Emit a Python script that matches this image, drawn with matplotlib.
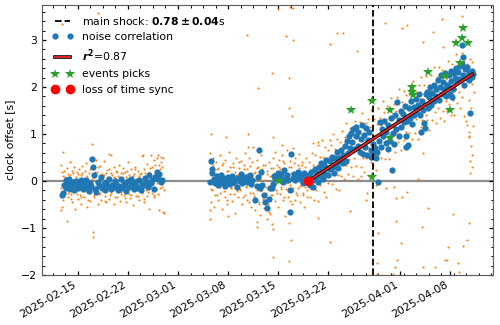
import numpy as np
import matplotlib
matplotlib.use('Agg')
import matplotlib.pyplot as plt
import matplotlib.dates as mdates
import matplotlib.patheffects as pe
from matplotlib.ticker import AutoMinorLocator

# Times are given as days after 2025-02-10 00:00 UTC
T0 = np.datetime64('2025-02-10T00:00')

# noise correlation (blue), February block
blue_feb_day = [
    2.8, 2.9, 3.1, 3.3, 3.4, 3.6, 3.8, 3.9, 4.1, 4.3, 4.5, 4.6, 4.8, 5.0, 5.2,
    5.4, 5.5, 5.7, 5.9, 6.1, 6.3, 6.5, 6.7, 6.9, 7.0, 7.1, 7.2, 7.4, 7.6, 7.8,
    8.0, 8.2, 8.4, 8.6, 8.8, 9.0, 9.2, 9.4, 9.6, 9.8, 10.0, 10.2, 10.4, 10.6,
    10.8, 11.0, 11.2, 11.4, 11.6, 11.8, 12.0, 12.2, 12.4, 12.6, 12.8, 13.0,
    13.2, 13.4, 13.6, 13.8, 14.0, 14.2, 14.4, 14.6, 14.8, 15.0, 15.2, 15.4,
    15.6, 15.8, 16.0, 16.2, 16.4, 16.6, 16.8,
]
blue_feb_val = [
    -0.30, -0.26, -0.08, 0.02, -0.14, -0.04, 0.05, -0.18, -0.10, -0.02, -0.20,
    -0.07, 0.01, -0.15, -0.09, -0.12, 0.02, -0.17, -0.06, 0.03, -0.13, -0.21,
    -0.05, -0.11, 0.46, 0.30, 0.13, -0.16, -0.24, -0.03, -0.10, 0.09, -0.14,
    -0.07, -0.20, -0.02, -0.11, 0.04, -0.17, -0.08, -0.13, 0.00, -0.06, -0.19,
    -0.10, 0.04, -0.15, -0.04, -0.09, -0.22, -0.01, -0.12, 0.05, -0.07, -0.18,
    -0.03, -0.11, -0.14, 0.02, -0.20, -0.06, -0.09, 0.06, -0.02, -0.13, 0.12,
    -0.05, 0.03, -0.16, 0.08, 0.20, 0.05, 0.15, -0.02, 0.02,
]
# March block before the loss of time sync
blue_mar_day = [
    23.5, 23.6, 23.7, 23.8, 24.0, 24.2, 24.4, 24.6, 24.8, 25.0, 25.2, 25.4,
    25.6, 25.8, 26.0, 26.2, 26.4, 26.6, 26.8, 27.0, 27.2, 27.4, 27.6, 27.8,
    28.0, 28.2, 28.4, 28.6, 28.8, 29.0, 29.2, 29.4, 29.75, 30.0, 30.2, 30.3,
    30.4, 30.6, 30.8, 31.0, 31.2, 31.5, 31.7, 31.9, 32.1, 32.2, 32.4, 32.6,
    32.8, 33.0, 33.2, 33.4, 33.6, 33.8, 34.0, 34.2, 34.4, 34.6, 34.7, 34.8,
    35.0, 35.2, 35.4, 35.6, 35.8, 36.0, 36.2, 36.4, 36.6, 36.8, 37.0,
]
blue_mar_val = [
    -0.03, 0.43, 0.25, 0.17, 0.05, -0.05, 0.10, -0.08, 0.02, 0.12, -0.04, 0.06,
    -0.10, 0.00, 0.08, -0.06, 0.03, 0.11, -0.02, 0.05, -0.12, 0.07, 0.01, 0.15,
    -0.05, 0.04, 0.09, -0.03, 0.06, 0.13, -0.07, 0.02, -0.40, -0.10, 0.08, 0.66,
    -0.14, 0.20, -0.08, -0.30, -0.45, -0.57, -0.38, -0.14, -0.14, -0.06, 0.10,
    0.06, 0.04, 0.18, 0.10, 0.14, -0.02, 0.23, 0.05, 0.12, 0.03, -0.65, -0.20,
    0.57, 0.07, 0.15, 0.02, 0.10, 0.20, 0.05, 0.12, -0.04, 0.16, 0.08, 0.02,
]
# drifting clock after the loss of time sync
blue_rise_day = [
    37.3, 37.5, 37.6, 37.8, 37.9, 38.1, 38.2, 38.4, 38.5, 38.7,
    38.8, 39.0, 39.1, 39.3, 39.4, 39.6, 39.7, 39.9, 40.0, 40.2,
    40.3, 40.5, 40.6, 40.8, 40.9, 41.1, 41.2, 41.4, 41.5, 41.7,
    41.8, 42.0, 42.1, 42.3, 42.4, 42.6, 42.7, 42.9, 43.0, 43.2,
    43.3, 43.5, 43.6, 43.8, 43.9, 44.1, 44.2, 44.4, 44.5, 44.7,
    44.8, 45.0, 45.1, 45.3, 45.4, 45.6, 45.7, 45.9, 46.0, 46.2,
    46.3, 46.5, 46.6, 46.8, 46.9, 47.1, 47.2, 47.4, 47.5, 47.7,
    47.8, 48.0, 48.1, 48.3, 48.4, 48.6, 48.7, 48.9, 49.0, 49.2,
    49.3, 49.5, 49.6, 49.8, 49.9, 50.1, 50.2, 50.4, 50.5, 50.7,
    50.8, 50.9, 51.0, 51.1, 51.3, 51.4, 51.6, 51.7, 51.9, 52.0,
    52.2, 52.3, 52.5, 52.6, 52.8, 52.9, 53.1, 53.2, 53.3, 53.5,
    53.6, 53.8, 53.9, 54.1, 54.2, 54.4, 54.5, 54.7, 54.8, 55.0,
    55.1, 55.3, 55.4, 55.6, 55.7, 55.9, 56.0, 56.2, 56.3, 56.5,
    56.6, 56.8, 56.9, 57.1, 57.2, 57.4, 57.5, 57.7, 57.8, 58.0,
    58.1, 58.3, 58.4, 58.6, 58.7, 58.75, 58.8, 59.0, 59.1, 59.3,
    59.4, 59.6, 59.7, 59.8, 60.0, 60.1, 60.2, 57.0, 57.3,
]
blue_rise_val = [
    0.12, -0.08, 0.20, 0.02, -0.12, 0.25, 0.05, 0.18, -0.02, 0.30,
    0.10, 0.38, 0.22, 0.05, 0.35, 0.15, 0.45, 0.28, 0.12, 0.42,
    0.25, 0.52, 0.30, 0.18, 0.48, 0.35, 0.62, 0.28, 0.50, 0.40,
    0.65, 0.38, 0.55, 0.75, 0.42, 0.85, 0.60, 0.95, 0.70, 1.02,
    0.82, 1.10, 0.68, 0.95, 1.15, 0.75, 1.05, 0.62, 0.90, 1.20,
    0.58, 0.98, 0.72, 1.12, 0.55, 0.88, 1.05, 0.65, 0.52, 0.78,
    0.60, 0.70, 0.50, 0.62, -0.02, 0.85, 1.25, 0.72, 1.10, 0.95,
    1.28, 0.80, 1.05, 0.68, 1.20, 0.85, 1.35, 0.23, 1.02, 0.78,
    1.40, 1.10, 1.68, 0.95, 1.30, 1.50, 1.15, 1.42, 1.25, 1.60,
    0.95, 0.73, 1.28, 0.77, 1.55, 1.35, 1.70, 1.22, 1.58, 1.40,
    1.75, 1.48, 1.62, 1.85, 1.40, 1.05, 1.70, 1.52, 1.23, 1.13,
    1.85, 1.90, 1.55, 1.78, 2.00, 1.62, 1.88, 1.70, 2.05, 1.80,
    1.95, 2.15, 1.72, 2.00, 2.25, 1.85, 2.10, 1.95, 2.30, 1.80,
    2.05, 2.25, 2.00, 2.35, 2.12, 1.95, 2.30, 2.20, 2.40, 2.10,
    2.32, 2.18, 2.45, 2.50, 2.90, 2.64, 2.25, 2.05, 2.38, 2.20,
    2.42, 2.15, 2.30, 1.45, 2.22, 2.35, 2.28, 1.85, 1.79,
]

# single measurements (orange)
orange_feb_day = [
    2.6, 2.7, 2.8, 2.9, 3.0, 3.1, 3.2, 3.3, 3.4, 3.5, 3.6, 3.7, 3.8, 3.9, 4.0,
    4.1, 4.2, 4.3, 4.4, 4.5, 4.6, 4.7, 4.8, 4.9, 5.0, 5.1, 5.2, 5.3, 5.4, 5.5,
    5.6, 5.7, 5.8, 5.9, 6.0, 6.1, 6.2, 6.3, 6.4, 6.5, 6.6, 6.7, 6.8, 6.9, 7.0,
    7.1, 7.15, 7.2, 7.3, 7.5, 7.6, 7.7, 7.8, 7.9, 8.0, 8.1, 8.2, 8.3, 8.4, 8.5,
    8.6, 8.7, 8.8, 8.9, 9.0, 9.1, 9.2, 9.3, 9.4, 9.5, 9.6, 9.7, 9.8, 9.9, 10.0,
    10.1, 10.2, 10.3, 10.4, 10.5, 10.6, 10.7, 10.8, 10.9, 11.0, 11.1, 11.2,
    11.3, 11.4, 11.5, 11.6, 11.7, 11.8, 11.9, 12.0, 12.1, 12.2, 12.3, 12.4,
    12.5, 12.6, 12.7, 12.8, 12.9, 13.0, 13.1, 13.2, 13.3, 13.4, 13.5, 13.6,
    13.7, 13.8, 13.9, 14.0, 14.1, 14.2, 14.3, 14.4, 14.5, 14.6, 14.7, 14.8,
    14.9, 15.0, 15.1, 15.2, 15.3, 15.4, 15.5, 15.6, 15.7, 15.8, 15.9, 16.0,
    16.1, 16.2, 16.3, 16.4, 16.5, 16.6, 16.7, 16.8, 16.9, 17.0, 17.1,
    2.65, 2.85, 3.05, 3.25, 3.45, 3.65, 3.85, 4.05, 4.25, 4.45,
    4.65, 4.85, 5.05, 5.25, 5.45, 5.65, 5.85, 6.05, 6.25, 6.45,
    6.65, 6.85, 7.05, 7.25, 7.45, 7.65, 7.85, 8.05, 8.25, 8.45,
    8.65, 8.85, 9.05, 9.25, 9.45, 9.65, 9.85, 10.05, 10.25, 10.45,
    10.65, 10.85, 11.05, 11.25, 11.45, 11.65, 11.85, 12.05, 12.25, 12.45,
    12.65, 12.85, 13.05, 13.25, 13.45, 13.65, 13.85, 14.05, 14.25, 14.45,
    14.65, 14.85, 15.05, 15.25, 15.45, 15.65, 15.85, 16.05, 16.25, 16.45,
    16.65, 16.85,
]
orange_feb_val = [
    -0.62, 0.35, -0.55, 0.10, -0.40, 0.22, -0.25, 0.05, -0.18, 0.28, -0.35,
    0.15, -0.10, 0.40, -0.28, 0.02, -0.45, 0.18, -0.15, 0.30, -0.60, 0.08,
    -0.22, 0.20, -0.38, -0.05, 0.25, -0.30, 0.12, -0.48, 0.33, -0.12, 0.06,
    -0.33, 0.22, -0.20, 0.38, -0.55, 0.00, -0.25, 0.16, -0.42, 0.28, -0.08,
    0.79, -1.09, -1.20, 0.10, -0.35, 0.45, -0.18, 0.20, -0.50, 0.05, -0.28,
    0.32, -0.10, -0.40, 0.14, -0.22, 0.42, -0.05, -0.32, 0.18, -0.45, 0.08,
    -0.16, 0.26, -0.38, 0.00, 0.55, -0.26, 0.12, -0.12, 0.30, -0.50, 0.06,
    -0.20, 0.22, -0.35, 0.10, -0.08, 0.35, -0.42, 0.16, -0.24, 0.02, 0.28,
    -0.30, -0.06, 0.20, -0.45, 0.08, -0.15, 0.40, -0.28, 0.12, -0.36, 0.04,
    0.25, -0.20, -0.52, 0.15, -0.10, 0.30, -0.32, 0.05, -0.18, 0.22, -0.40,
    0.10, -0.05, 0.18, -0.26, 0.54, -0.14, 0.26, -0.44, 0.08, -0.20, 0.36,
    -0.32, 0.12, -0.60, 0.20, -0.10, 0.55, -0.25, 0.30, -0.05, 0.45, -0.35,
    0.15, -0.18, 0.50, 0.02, -0.28, 0.35, -0.62, 0.25, 0.52, -0.12, 0.30,
    0.48, -0.20, -0.68,
    -0.15, 0.20, -0.32, 0.08, -0.05, -0.25, 0.12, -0.38, 0.22, -0.12,
    0.05, -0.28, 0.15, -0.08, -0.35, 0.18, -0.02, -0.22, 0.10, -0.40,
    0.25, -0.15, 0.05, -0.30, 0.20, -0.10, 0.30, -0.26, 0.02, -0.18,
    0.12, -0.42, 0.24, -0.06, -0.30, 0.16, -0.20, 0.08, -0.34, 0.20,
    -0.12, 0.04, -0.28, 0.18, -0.04, -0.36, 0.22, -0.14, 0.00, -0.30,
    0.10, -0.22, 0.26, -0.08, -0.32, 0.14, -0.16, 0.04, -0.38, 0.18,
    -0.06, -0.24, 0.28, -0.12, 0.10, -0.30, 0.35, -0.05, 0.20, -0.15,
    0.40, 0.05,
]
orange_mar_day = [
    23.4, 23.5, 23.6, 23.7, 23.8, 23.9, 24.0, 24.1, 24.2, 24.3, 24.4, 24.5,
    24.6, 24.7, 24.8, 24.9, 25.0, 25.1, 25.2, 25.3, 25.4, 25.5, 25.6, 25.7,
    25.8, 25.9, 26.0, 26.1, 26.2, 26.3, 26.4, 26.5, 26.6, 26.7, 26.8, 26.9,
    27.0, 27.1, 27.2, 27.3, 27.4, 27.5, 27.6, 27.7, 27.8, 27.9, 28.0, 28.1,
    28.2, 28.3, 28.4, 28.5, 28.6, 28.7, 28.8, 28.9, 29.0, 29.1, 29.2, 29.3,
    29.4, 29.5, 29.6, 29.7, 29.8, 29.9, 30.0, 30.1, 30.2, 30.3, 30.4, 30.5,
    30.6, 30.7, 30.8, 30.9, 31.0, 31.1, 31.2, 31.3, 31.4, 31.5, 31.6, 31.7,
    31.8, 31.9, 32.0, 32.1, 32.2, 32.3, 32.4, 32.5, 32.6, 32.7, 32.8, 32.9,
    33.0, 33.1, 33.2, 33.3, 33.4, 33.5, 33.6, 33.7, 33.8, 33.9, 34.0, 34.1,
    34.2, 34.3, 34.4, 34.5, 34.6, 34.7, 34.8, 34.9, 35.0, 35.1, 35.2, 35.3,
    35.4, 35.5, 35.6, 35.7, 35.8, 35.9, 36.0, 36.1, 36.2, 36.3, 36.4, 36.5,
    36.6, 36.7, 36.8, 36.9, 37.0, 37.1,
    23.45, 23.65, 23.85, 24.05, 24.25, 24.45, 24.65, 24.85, 25.05, 25.25,
    25.45, 25.65, 25.85, 26.05, 26.25, 26.45, 26.65, 26.85, 27.05, 27.25,
    27.45, 27.65, 27.85, 28.05, 28.25, 28.45, 28.65, 28.85, 29.05, 29.25,
    29.45, 29.65, 29.85, 30.05, 30.25, 30.45, 30.65, 30.85, 31.05, 31.25,
    31.45, 31.65, 31.85, 32.05, 32.25, 32.45, 32.65, 32.85, 33.05, 33.25,
    33.45, 33.65, 33.85, 34.05, 34.25, 34.45, 34.65, 34.85, 35.05, 35.25,
    35.45, 35.65, 35.85, 36.05, 36.25, 36.45, 36.65, 36.85, 37.05,
]
orange_mar_val = [
    -0.80, 0.60, -0.45, 0.30, -0.20, 0.50, -0.55, 0.12, -0.30, 0.40, -0.10,
    0.25, -0.40, 0.05, 0.55, -0.25, 0.18, -0.60, 0.35, -0.12, 0.08, -0.35,
    0.45, -0.05, 0.22, -0.48, 0.10, 0.62, -0.28, 0.30, -0.15, 0.02, -0.42,
    0.38, -0.08, 0.20, -0.68, 0.48, -0.22, 0.12, -0.35, 0.28, 0.05, -0.18,
    0.42, -0.50, 0.18, -0.05, 0.35, -0.30, 0.60, -0.12, 0.25, -0.40, 0.08,
    0.50, -0.25, 0.15, -0.55, 0.40, -0.10, 0.72, -0.32, 0.20, -0.62, 0.05,
    0.45, -0.20, 0.30, -0.45, 0.10, -0.72, 0.55, -0.15, 0.25, -0.38, 0.02,
    -0.60, 0.35, -0.25, -0.80, 0.15, -0.48, 0.40, -0.10, -0.70, 0.28, -0.30,
    0.50, -0.05, 0.18, -0.42, 0.62, -0.20, 0.35, -0.55, 0.10, 0.45, -0.28,
    0.25, -0.12, 0.55, -0.40, 0.05, 0.38, -0.75, 0.20, -0.18, 0.65, -0.35,
    0.12, -0.90, 0.42, -0.08, 0.30, -0.50, 0.70, -0.22, 0.15, -0.40, 0.48,
    0.02, -0.30, 0.35, -0.15, 0.58, -0.45, 0.22, -0.05, 0.40, -0.25, 0.10,
    -0.55, 0.30, -0.12, 0.50, -0.35, 0.18,
    0.20, -0.18, 0.35, -0.05, 0.15, -0.30, 0.28, -0.12, 0.05, 0.38,
    -0.22, 0.10, -0.40, 0.22, 0.00, -0.15, 0.30, -0.28, 0.12, -0.05,
    0.40, -0.20, 0.08, -0.35, 0.25, -0.10, 0.15, -0.45, 0.32, -0.02,
    -0.25, 0.18, -0.38, 0.28, -0.50, 0.05, -0.22, 0.35, -0.58, -0.12,
    0.22, -0.65, 0.10, -0.30, 0.28, -0.08, 0.15, -0.25, 0.30, 0.02,
    -0.18, 0.42, -0.35, 0.10, -0.05, 0.30, -0.42, 0.18, -0.15, 0.38,
    -0.25, 0.12, 0.28, -0.10, 0.35, -0.30, 0.20, 0.05, -0.20,
]
orange_rise_day = [
    37.3, 37.4, 37.5, 37.6, 37.7, 37.8, 37.9, 38.0, 38.1, 38.2,
    38.3, 38.4, 38.5, 38.6, 38.7, 38.8, 38.9, 39.0, 39.1, 39.2,
    39.3, 39.4, 39.5, 39.6, 39.7, 39.8, 39.9, 40.0, 40.1, 40.2,
    40.3, 40.4, 40.5, 40.6, 40.7, 40.8, 40.9, 41.0, 41.1, 41.2,
    41.3, 41.4, 41.5, 41.6, 41.7, 41.8, 41.9, 42.0, 42.1, 42.2,
    42.3, 42.4, 42.5, 42.6, 42.7, 42.8, 42.9, 43.0, 43.1, 43.2,
    43.3, 43.4, 43.5, 43.6, 43.7, 43.8, 43.9, 44.0, 44.1, 44.2,
    44.3, 44.4, 44.5, 44.6, 44.7, 44.8, 44.9, 45.0, 45.1, 45.2,
    45.3, 45.4, 45.5, 45.6, 45.7, 45.8, 45.9, 46.0, 46.1, 46.2,
    46.3, 46.4, 46.5, 46.6, 46.7, 46.8, 46.9, 47.0, 47.1, 47.2,
    47.3, 47.4, 47.5, 47.6, 47.7, 47.8, 47.9, 48.0, 48.1, 48.2,
    48.3, 48.4, 48.5, 48.6, 48.7, 48.8, 48.9, 49.0, 49.1, 49.2,
    49.3, 49.4, 49.5, 49.6, 49.7, 49.8, 49.9, 50.0, 50.1, 50.2,
    50.3, 50.4, 50.5, 50.6, 50.7, 50.8, 50.9, 51.0, 51.1, 51.2,
    51.3, 51.4, 51.5, 51.6, 51.7, 51.8, 51.9, 52.0, 52.1, 52.2,
    52.3, 52.4, 52.5, 52.6, 52.7, 52.8, 52.9, 53.0, 53.1, 53.2,
    53.3, 53.4, 53.5, 53.6, 53.7, 53.8, 53.9, 54.0, 54.1, 54.2,
    54.3, 54.4, 54.5, 54.6, 54.7, 54.8, 54.9, 55.0, 55.1, 55.2,
    55.3, 55.4, 55.5, 55.6, 55.7, 55.8, 55.9, 56.0, 56.1, 56.2,
    56.3, 56.4, 56.5, 56.6, 56.7, 56.8, 56.9, 57.0, 57.1, 57.2,
    57.3, 57.4, 57.5, 57.6, 57.7, 57.8, 57.9, 58.0, 58.1, 58.2,
    58.3, 58.4, 58.5, 58.6, 58.7, 58.8, 58.9, 59.0, 59.1, 59.2,
    59.3, 59.4, 59.5, 59.6, 59.7, 59.8, 59.9, 60.0, 60.1, 60.2, 60.3,
    59.6, 59.7, 59.9, 60.0, 60.1,
]
orange_rise_val = [
    0.41, -0.33, 0.15, -0.18, 0.60, 0.01, 0.34, -0.41, 0.16, 0.55,
    -0.19, 0.32, -0.42, 0.76, 0.17, 0.51, -0.08, 0.33, 0.87, 0.08,
    0.51, -0.23, 0.73, 0.29, -0.35, 0.11, 0.67, -0.04, 0.51, 0.88,
    0.11, 0.77, -0.07, 0.44, 1.00, 0.28, 0.69, -0.17, 0.57, 0.90,
    0.13, 0.57, -0.19, 0.82, 0.50, 0.11, 1.07, 0.36, 0.74, 0.05,
    0.93, 0.34, 1.23, 0.56, 0.15, 0.84, 0.47, 1.13, 0.29, 0.72,
    1.09, 0.10, 0.83, 0.49, 1.27, 0.71, 0.32, 1.03, 0.04, 0.95,
    0.65, 1.26, 0.29, 0.87, 1.45, 0.50, 1.14, 0.19, 0.86, 1.24,
    0.50, 1.03, 0.13, 1.32, 0.71, 1.14, 0.40, 1.51, 0.68, 0.99,
    0.35, 1.31, 0.67, 0.98, 0.24, 1.22, 0.55, 1.56, 0.82, 1.34,
    0.50, 1.19, 0.70, 1.71, 0.96, 1.47, 0.46, 1.32, 0.86, 1.59,
    0.68, 1.21, 0.47, 1.48, 0.99, 1.77, 0.81, 1.38, 1.14, 1.64,
    0.62, 1.49, 1.02, 1.78, 0.84, 1.33, 1.96, 0.99, 1.43, 0.67,
    1.68, 1.16, 1.92, 0.88, 1.56, 1.05, 1.84, 1.32, 0.70, 1.71,
    1.02, 1.96, 1.30, 1.68, 0.89, 2.13, 1.21, 1.59, 1.03, 1.89,
    1.32, 1.81, 0.90, 2.05, 1.46, 1.75, 1.16, 2.22, 1.30, 1.64,
    2.05, 1.11, 1.80, 1.41, 2.24, 1.30, 1.76, 2.05, 1.08, 1.94,
    1.55, 2.26, 1.30, 2.03, 1.69, 2.43, 1.46, 1.92, 1.23, 2.21,
    1.55, 1.89, 2.42, 1.35, 2.19, 1.75, 2.36, 1.49, 2.08, 1.27,
    2.35, 1.71, 2.20, 1.48, 2.56, 1.97, 1.64, 2.37, 1.40, 2.14,
    2.50, 1.73, 2.14, 1.41, 2.42, 1.95, 2.71, 1.67, 2.30, 1.89,
    2.55, 1.56, 2.22, 2.73, 1.79, 2.42, 1.39, 2.55, 2.01, 1.28,
    2.50, 1.20, 2.37, 1.73, 0.94, 2.60, 1.56, 2.07, 2.53, 1.18, 1.90,
    0.95, 1.05, 0.75, 0.55, 0.30,
]
# isolated outliers
orange_out_day = [
    2.8, 3.5, 2.9, 9.4, 16.9, 14.1, 16.2, 7.8,
    23.6, 25.7, 28.8, 23.5, 26.0, 30.0, 30.1, 32.1, 32.2, 28.8, 33.5, 37.8,
    38.5, 28.6, 33.0, 34.6, 35.1, 34.1, 35.1, 41.2, 42.0, 40.2, 44.0, 32.1,
    34.5, 30.2, 47.9, 51.0, 50.3, 53.2, 55.9, 54.6, 58.7, 56.0, 34.5, 34.9,
    32.3, 34.8, 34.5, 32.3, 40.2, 38.5, 43.0, 46.9, 49.4, 50.1, 53.9, 53.1,
    57.4, 56.7, 59.6, 58.8, 59.4, 56.6, 58.1, 53.2, 54.9, 49.3, 46.8, 58.2,
    49.6, 46.8, 49.0, 56.3, 59.8, 59.8, 53.2, 49.4, 49.2, 51.0, 50.3, 45.4,
    45.3, 46.6, 48.0, 52.5, 44.5,
]
orange_out_val = [
    3.34, -0.85, 0.62, 0.57, -0.66, 0.55, 0.55, 3.57,
    1.00, 0.94, 1.00, -0.62, -0.74, -0.87, -0.98, -0.91, -1.02, 0.73, 0.77,
    0.81, 0.84, 3.11, 3.66, 3.70, 3.68, 3.09, 3.00, 3.15, 3.15, 2.91, 2.77,
    2.30, 2.19, 1.98, 3.36, 3.32, 3.26, 2.96, 3.45, 3.17, 3.51, 2.85, 1.55,
    1.38, 0.94, -1.26, -1.70, -1.62, -1.30, -0.79, -0.64, -1.11, -0.85, -1.32,
    -0.57, -0.98, -0.70, -1.40, -0.89, -1.38, -1.26, -1.68, -1.74, -1.83,
    -1.83, -1.83, -1.74, -1.94, -1.68, -1.98, -1.98, -1.68, 0.43, 0.17, 0.60,
    -0.36, -0.13, -0.23, -0.34, -0.26, -0.40, -0.09, -0.15, 0.05, 0.10,
]

# event picks (green stars)
star_day = [33.1, 43.2, 46.1, 46.1, 48.6, 48.6, 51.7, 51.7, 51.8, 53.9, 56.3,
            57.0, 57.8, 58.4, 58.7, 58.8, 59.5]
star_val = [0.00, 1.51, 1.71, 0.09, 1.51, 0.91, 2.00, 1.89, 1.83, 2.32, 2.23,
            1.51, 2.94, 2.51, 3.04, 3.26, 2.94]

# loss of time sync and linear fit
sync_day = [37.2]
sync_val = [0.0]
fit_day = [37.2, 60.1]
fit_val = [0.0, 2.27]
mainshock = np.datetime64('2025-03-28T06:20')


def to_time(days):
    return T0 + (np.asarray(days) * 86400).astype('timedelta64[s]')


blue_day = blue_feb_day + blue_mar_day + blue_rise_day
blue_val = blue_feb_val + blue_mar_val + blue_rise_val
orange_day = orange_feb_day + orange_mar_day + orange_rise_day + orange_out_day
orange_val = orange_feb_val + orange_mar_val + orange_rise_val + orange_out_val

FS = 7.8
fig, ax = plt.subplots(figsize=(5, 3.25), dpi=100)
fig.subplots_adjust(left=0.084, right=0.986, bottom=0.154, top=0.985)

ax.axhline(0, color='0.55', lw=1.6, zorder=1)
ax.plot(to_time(orange_day), orange_val, 'o', color='tab:orange', ms=1.5,
        mew=0, zorder=2)
ax.plot(to_time(blue_day), blue_val, 'o', color='tab:blue', ms=4.5, mew=0,
        zorder=3, label='noise correlation')
ax.axvline(mainshock, color='k', ls='--', lw=1.3, zorder=4,
           label=r'main shock: $\mathbf{0.78 \pm 0.04}$s')
ax.plot(to_time(fit_day), fit_val, color='tab:red', lw=1.5, zorder=5,
        path_effects=[pe.Stroke(linewidth=2.6, foreground='k'), pe.Normal()],
        label=r'$\mathbfit{r}^{\mathbf{2}}$=0.87')
ax.plot(to_time(star_day), star_val, '*', color='tab:green', ms=7, mew=0,
        zorder=6, label='events picks')
ax.plot(to_time(sync_day), sync_val, 'o', color='red', ms=7, mew=0, zorder=7,
        label='loss of time sync')

handles, labels = ax.get_legend_handles_labels()
order = [1, 0, 2, 3, 4]
ax.legend([handles[i] for i in order], [labels[i] for i in order],
          loc='upper left', numpoints=2, frameon=False, fontsize=FS)

ax.set_xlim(np.datetime64('2025-02-10'), np.datetime64('2025-04-14'))
ax.set_ylim(-2, 3.75)
ax.set_yticks([-2, -1, 0, 1, 2, 3])
ax.xaxis.set_major_locator(mdates.DayLocator(bymonthday=[1, 8, 15, 22]))
ax.xaxis.set_major_formatter(mdates.DateFormatter('%Y-%m-%d'))
ax.xaxis.set_minor_locator(AutoMinorLocator(4))
ax.yaxis.set_minor_locator(AutoMinorLocator(5))
ax.tick_params(which='both', direction='in', top=True, right=True,
               labelsize=FS)
ax.tick_params(which='major', length=3.2, width=0.9)
ax.tick_params(which='minor', length=1.8, width=0.7)
plt.setp(ax.get_xticklabels(), rotation=30, ha='right')
for s in ax.spines.values():
    s.set_color('0.35')
ax.set_ylabel('clock offset [s]', fontsize=FS)

fig.savefig('out.png', dpi=100)
